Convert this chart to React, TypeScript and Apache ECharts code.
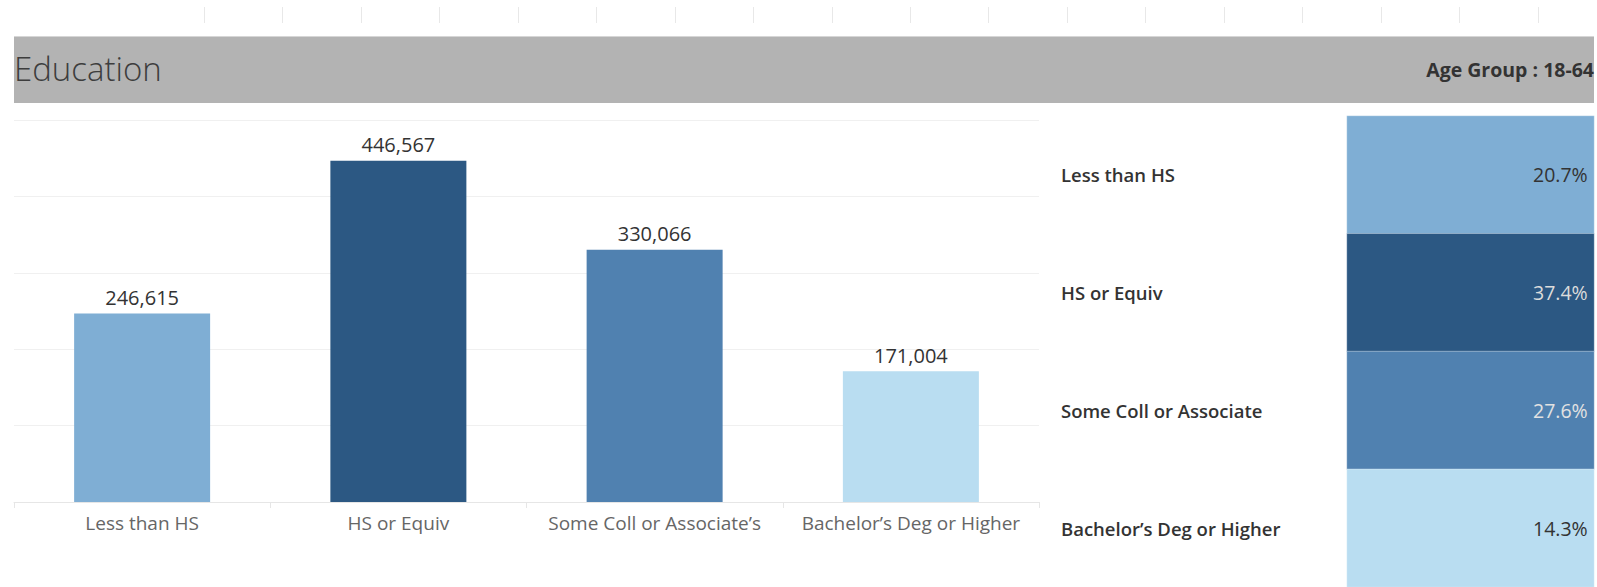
import React, { useEffect, useRef } from "react";
import * as echarts from "echarts";

// ---- data ----
const categories = ["Less than HS", "HS or Equiv", "Some Coll or Associate’s", "Bachelor’s Deg or Higher"];
const rowLabels = ["Less than HS", "HS or Equiv", "Some Coll or Associate", "Bachelor’s Deg or Higher"];
const counts = [246615, 446567, 330066, 171004];
const shares = [20.7, 37.4, 27.6, 14.3];
const colors = ["#7faed4", "#2c5883", "#5081b0", "#b9ddf1"];
const shareTextColors = ["#333333", "#dcdcdc", "#e2e2e2", "#333333"];
const titleText = "Education";
const subtitleText = "Age Group : 18-64";

const FONT = "'Open Sans', 'Noto Sans', sans-serif";

export default function App() {
  const ref = useRef<HTMLDivElement>(null);

  useEffect(() => {
    if (!ref.current) return;
    const chart = echarts.init(ref.current, undefined, { renderer: "svg" });

    const option: any = {
      animation: false,
      backgroundColor: "#ffffff",
      textStyle: { fontFamily: FONT },
      title: [
        {
          text: titleText,
          left: 14,
          top: 52,
          padding: 0,
          textStyle: { fontFamily: FONT, fontSize: 33, fontWeight: 300, color: "#3d3d3d" },
        },
        {
          text: subtitleText,
          right: 3,
          top: 59,
          padding: 0,
          textStyle: { fontFamily: FONT, fontSize: 19.5, fontWeight: "bold", color: "#333333" },
        },
      ],
      graphic: [
        {
          type: "rect",
          z: -10,
          shape: { x: 14, y: 36, width: 1580, height: 67 },
          style: { fill: "#b3b3b3" },
        },
        {
          type: "line",
          z: -9,
          shape: { x1: 14, y1: 36.5, x2: 1594, y2: 36.5 },
          style: { stroke: "#d6d6d6", lineWidth: 1 },
        },
      ],
      visualMap: {
        type: "piecewise",
        show: false,
        seriesIndex: 1,
        dimension: 1,
        pieces: colors.map((c, i) => ({ value: i, color: c })),
      },
      grid: [
        { left: 14, right: 558, top: 120, bottom: 85 },
        { left: 1347, right: 3, top: 116, bottom: 0 },
        { left: 204, right: 59, top: 7, height: 16 },
      ],
      xAxis: [
        {
          type: "category",
          gridIndex: 0,
          data: categories,
          axisLine: { show: true, lineStyle: { color: "#e6e6e6" } },
          axisTick: { show: true, interval: 0, length: 6, lineStyle: { color: "#e6e6e6" } },
          axisLabel: { interval: 0, color: "#666666", fontSize: 19, margin: 11, fontFamily: FONT },
        },
        {
          type: "category",
          gridIndex: 1,
          data: [""],
          show: false,
        },
        {
          type: "value",
          gridIndex: 2,
          min: 0,
          max: 17,
          interval: 1,
          axisLine: { show: false },
          axisTick: { show: false },
          axisLabel: { show: false },
          splitLine: { show: true, lineStyle: { color: "#e8e8e8", width: 1 } },
        },
      ],
      yAxis: [
        {
          type: "value",
          gridIndex: 0,
          min: 0,
          max: 500000,
          interval: 100000,
          axisLine: { show: false },
          axisTick: { show: false },
          axisLabel: { show: false },
          splitLine: { show: true, lineStyle: { color: "#f0f0f0", width: 1 } },
        },
        {
          type: "category",
          gridIndex: 1,
          data: rowLabels,
          inverse: true,
          axisLine: { show: false },
          axisTick: { show: false },
          splitLine: { show: false },
          axisLabel: {
            interval: 0,
            align: "left",
            margin: 286,
            padding: [9, 0, 0, 0],
            color: "#333333",
            fontSize: 18.5,
            fontWeight: 600,
            fontFamily: FONT,
          },
        },
        {
          type: "value",
          gridIndex: 2,
          show: false,
        },
      ],
      series: [
        {
          type: "bar",
          xAxisIndex: 0,
          yAxisIndex: 0,
          barWidth: 136,
          data: counts.map((v, i) => ({ value: v, itemStyle: { color: colors[i] } })),
          label: {
            show: true,
            position: "top",
            distance: 6,
            color: "#333333",
            fontSize: 20,
            fontFamily: FONT,
            formatter: (p: any) => Number(p.value).toLocaleString("en-US"),
          },
        },
        {
          type: "heatmap",
          xAxisIndex: 1,
          yAxisIndex: 1,
          data: shares.map((v, i) => ({
            value: [0, i, v],
            itemStyle: { borderColor: "rgba(255,255,255,0.3)", borderWidth: 1 },
            label: { color: shareTextColors[i] },
          })),
          label: {
            show: true,
            position: "insideRight",
            distance: 7,
            fontSize: 19.5,
            padding: [8, 0, 0, 0],
            fontFamily: FONT,
            formatter: (p: any) => p.value[2].toFixed(1) + "%",
          },
          emphasis: { disabled: true },
        },
      ],
    };

    chart.setOption(option);
    return () => chart.dispose();
  }, []);

  return (
    <div
      ref={ref}
      style={{ position: "fixed", left: 0, top: 0, width: 1597, height: 587, background: "#ffffff" }}
    />
  );
}
